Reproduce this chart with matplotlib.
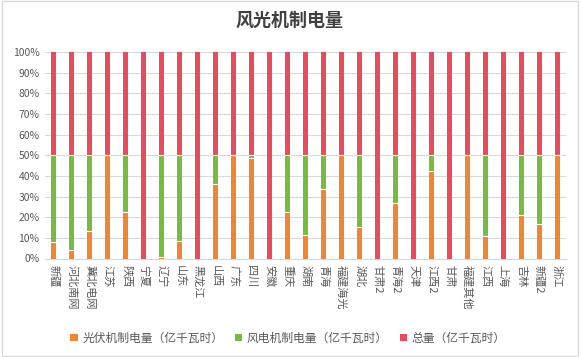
import matplotlib
matplotlib.use('Agg')
import matplotlib.pyplot as plt
import numpy as np
from matplotlib.patches import Rectangle

plt.rcParams['font.family'] = ['Noto Sans CJK SC', 'DejaVu Sans']

# 各省份（地区）
categories = ['新疆', '河北南网', '冀北电网', '江苏', '陕西', '宁夏', '辽宁', '山东', '黑龙江',
              '山西', '广东', '四川', '安徽', '重庆', '湖南', '青海', '福建海光', '湖北',
              '甘肃2', '青海2', '天津', '江西2', '甘肃', '福建其他', '江西', '上海',
              '吉林', '新疆2', '浙江']

# 占比（%）
pv_share = [8.1, 4.2, 13.1, 50, 22.6, 0, 0.8, 8.5, 0,
            36.3, 50, 48.9, 0, 22.6, 11.5, 33.5, 50, 15.3,
            0, 26.9, 0, 42.4, 0, 50, 11.0, 0,
            21.3, 16.9, 50]
wind_share = [41.9, 45.8, 36.9, 0, 27.4, 0, 49.2, 41.5, 0,
              13.7, 0, 1.1, 0, 27.4, 38.5, 16.5, 0, 34.7,
              0, 23.1, 0, 7.6, 0, 0, 39.0, 0,
              28.7, 33.1, 0]
total_share = [50, 50, 50, 50, 50, 100, 50, 50, 100,
               50, 50, 50, 100, 50, 50, 50, 50, 50,
               100, 50, 100, 50, 100, 50, 50, 100,
               50, 50, 50]

series_names = ['光伏机制电量（亿千瓦时）', '风电机制电量（亿千瓦时）', '总量（亿千瓦时）']
colors = ['#F0862F', '#76BC3F', '#E84B5E']

fig = plt.figure(figsize=(5.81, 3.57), dpi=100)
ax = fig.add_axes([45 / 581, 1 - 258.5 / 357, 521 / 581, 206.5 / 357])

x = np.arange(len(categories))
w = 0.28
pv = np.array(pv_share)
wind = np.array(wind_share)
tot = np.array(total_share)
ax.bar(x, pv, w, color=colors[0], label=series_names[0], zorder=3)
ax.bar(x, wind, w, bottom=pv, color=colors[1], label=series_names[1], zorder=3)
ax.bar(x, tot, w, bottom=pv + wind, color=colors[2], label=series_names[2], zorder=3)
# 分段之间的白线
for b_arr in (pv, pv + wind):
    for xi, b in zip(x, b_arr):
        if 0 < b < 100:
            ax.plot([xi - w / 2, xi + w / 2], [b, b], color='white', lw=0.8, zorder=4)

ax.set_xlim(-0.5, len(categories) - 0.5)
ax.set_ylim(0, 100)
ax.set_yticks(range(0, 101, 10))
ax.set_yticklabels([f'{v}%' for v in range(0, 101, 10)], fontsize=7.5, color='#595959')
ax.yaxis.grid(True, color='#D9D9D9', linewidth=0.8, zorder=0)
ax.set_xticks(x)
ax.set_xticklabels([])
for xi, name in zip(x, categories):
    ax.text(xi, -3, name, rotation=-90, ha='center', va='top', fontsize=8,
            color='#595959')
ax.tick_params(length=0, pad=4)
for s in ['top', 'right', 'left']:
    ax.spines[s].set_visible(False)
ax.spines['bottom'].set_color('#D9D9D9')

fig.text(290 / 581, 1 - 20 / 357, '风光机制电量', ha='center', va='center', fontsize=13,
         fontweight='bold', color='#404040')

handles, labels = ax.get_legend_handles_labels()
fig.legend(handles, labels, loc='center', bbox_to_anchor=(288 / 581, 1 - 338 / 357), ncol=3,
           frameon=False, fontsize=8.5, handlelength=0.6, handleheight=0.6,
           handletextpad=0.4, columnspacing=1.0, labelcolor='#595959')

fig.patches.append(Rectangle((0.003, 0.003), 0.992, 0.994, transform=fig.transFigure,
                             fill=False, edgecolor='#D9D9D9', linewidth=1))

fig.savefig('out.png', dpi=100)
